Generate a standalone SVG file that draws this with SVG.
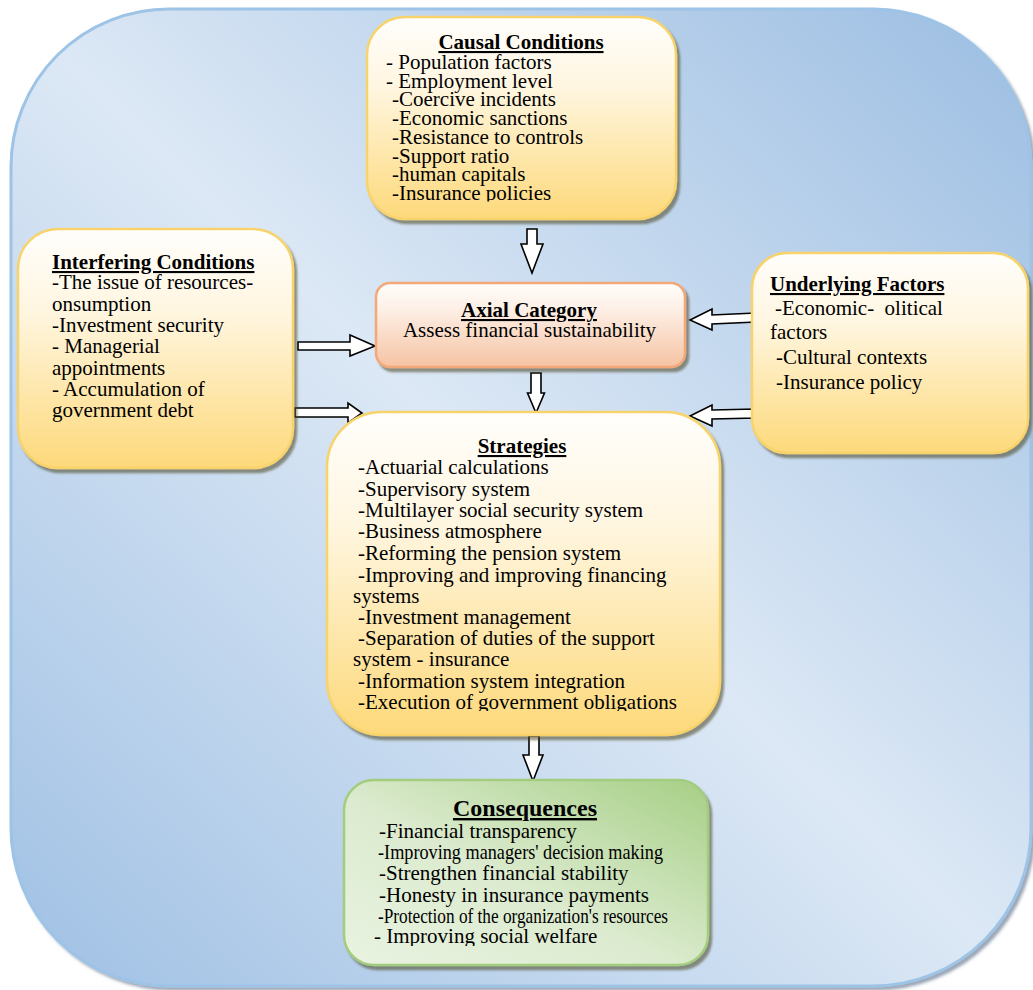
<svg xmlns="http://www.w3.org/2000/svg" width="1033" height="990" viewBox="0 0 1033 990">
  <style>
    text { font-family: "Liberation Serif", "Times New Roman", serif; font-size: 21px; fill: #000; }
    .title { font-weight: bold; text-decoration: underline; }
    .mid { text-anchor: middle; }
    .pre { white-space: pre; }
    .yellow { fill: url(#gYellow); stroke: #f8d36c; stroke-width: 2.5; filter: url(#shadow); }
    .arrow { fill: #fff; stroke: #000; stroke-width: 1.6; stroke-linejoin: miter; }
  </style>
  <defs>
    <linearGradient id="gBg" x1="1" y1="0" x2="0" y2="1">
      <stop offset="0" stop-color="#9bbde2"/>
      <stop offset="0.5" stop-color="#dce8f5"/>
      <stop offset="1" stop-color="#9fc0e4"/>
    </linearGradient>
    <linearGradient id="gYellow" x1="0" y1="0" x2="0" y2="1">
      <stop offset="0" stop-color="#fffefc"/>
      <stop offset="0.35" stop-color="#fff6e0"/>
      <stop offset="1" stop-color="#fdd97a"/>
    </linearGradient>
    <linearGradient id="gPeach" x1="0" y1="0" x2="0" y2="1">
      <stop offset="0" stop-color="#fffdfb"/>
      <stop offset="0.3" stop-color="#fdf0e7"/>
      <stop offset="1" stop-color="#f6c3a3"/>
    </linearGradient>
    <linearGradient id="gGreen" x1="1" y1="0" x2="0" y2="1">
      <stop offset="0" stop-color="#a6cf86"/>
      <stop offset="0.55" stop-color="#dcebcf"/>
      <stop offset="1" stop-color="#e9f3e1"/>
    </linearGradient>
    <filter id="shadow" x="-10%" y="-10%" width="120%" height="120%">
      <feDropShadow dx="3" dy="4" stdDeviation="1.2" flood-color="#4a4520" flood-opacity="0.55"/>
    </filter>
    <filter id="bgShadow" x="-5%" y="-5%" width="110%" height="110%">
      <feDropShadow dx="3" dy="3" stdDeviation="1.5" flood-color="#34506e" flood-opacity="0.5"/>
    </filter>
    <clipPath id="clipCausal"><rect x="360" y="10" width="320" height="191.5"/></clipPath>
    <clipPath id="clipStrat"><rect x="320" y="400" width="410" height="311"/></clipPath>
    <clipPath id="clipCons"><rect x="340" y="775" width="380" height="171"/></clipPath>
  </defs>

  <g id="background">
    <rect x="11" y="9" width="1020" height="977" rx="158" ry="158" fill="url(#gBg)" stroke="#9dc3e6" stroke-width="3" filter="url(#bgShadow)"/>
  </g>

  <g id="connectors">
    <polygon class="arrow" points="527,229 537,229 537,244 543,244 532,273 521,244 527,244"/>
    <polygon class="arrow" points="531,373 541,373 541,393 544.5,393 536,413 527.5,393 531,393"/>
    <polygon class="arrow" points="529,736 539,736 539,755 543,755 533,781 523,755 529,755"/>
    <polygon class="arrow" points="298,342 350,342 350,335 375,346 350,356 350,350 298,350"/>
    <polygon class="arrow" points="295,408 348,408 348,403 362,413 348,423 348,417 295,417"/>
    <polygon class="arrow" points="756,313 712,315 712,309 690,320 712,330 712,324 756,322"/>
    <polygon class="arrow" points="756,409 712,410 712,405 690,416 712,426 712,419 756,418"/>
  </g>

  <g id="causal">
    <rect class="yellow" x="367" y="17" width="309" height="202" rx="38" ry="38"/>
    <g clip-path="url(#clipCausal)">
      <text class="title mid" x="521" y="49">Causal Conditions</text>
      <text x="386" y="69">- Population factors</text>
      <text x="386" y="87.7">- Employment level</text>
      <text x="392" y="106.4">-Coercive incidents</text>
      <text x="392" y="125.1">-Economic sanctions</text>
      <text x="392" y="143.8">-Resistance to controls</text>
      <text x="392" y="162.5">-Support ratio</text>
      <text x="392" y="181.2">-human capitals</text>
      <text x="392" y="199.9">-Insurance policies</text>
    </g>
  </g>

  <g id="interfering">
    <rect class="yellow" x="18" y="229" width="275" height="239" rx="40" ry="40"/>
    <text class="title" x="52" y="269">Interfering Conditions</text>
    <text x="52" y="289">-The issue of resources-</text>
    <text x="52" y="310.5">onsumption</text>
    <text x="52" y="332">-Investment security</text>
    <text x="52" y="353">- Managerial</text>
    <text x="52" y="374.5">appointments</text>
    <text x="52" y="396">- Accumulation of</text>
    <text x="52" y="417">government debt</text>
  </g>

  <g id="underlying">
    <rect class="yellow" x="752" y="253" width="276" height="200" rx="35" ry="35"/>
    <text class="title" x="770" y="291">Underlying Factors</text>
    <text class="pre" x="775" y="315">-Economic-  olitical</text>
    <text x="770" y="339">factors</text>
    <text x="776" y="364">-Cultural contexts</text>
    <text x="776" y="389">-Insurance policy</text>
  </g>

  <g id="axial">
    <rect x="376" y="283" width="309" height="84" rx="14" ry="14" fill="url(#gPeach)" stroke="#f2a878" stroke-width="2.5" filter="url(#shadow)"/>
    <text class="title mid" x="529" y="317">Axial Category</text>
    <text class="mid" x="529.5" y="337">Assess financial sustainability</text>
  </g>

  <g id="strategies">
    <rect class="yellow" x="327" y="412" width="393" height="323" rx="55" ry="55"/>
    <g clip-path="url(#clipStrat)">
      <text class="title mid" x="522" y="453">Strategies</text>
      <text x="358" y="474">-Actuarial calculations</text>
      <text x="358" y="495.5">-Supervisory system</text>
      <text x="358" y="517">-Multilayer social security system</text>
      <text x="358" y="538">-Business atmosphere</text>
      <text x="358" y="560">-Reforming the pension system</text>
      <text x="358" y="581.5">-Improving and improving financing</text>
      <text x="353" y="602.5">systems</text>
      <text x="358" y="624">-Investment management</text>
      <text x="358" y="645">-Separation of duties of the support</text>
      <text x="353" y="666">system - insurance</text>
      <text x="358" y="687.5">-Information system integration</text>
      <text x="358" y="708.5">-Execution of government obligations</text>
    </g>
  </g>

  <g id="consequences">
    <rect x="344" y="780" width="364" height="185" rx="30" ry="30" fill="url(#gGreen)" stroke="#a3cc7e" stroke-width="2.5" filter="url(#shadow)"/>
    <g clip-path="url(#clipCons)">
      <text class="title mid" x="525" y="816" style="font-size:24px">Consequences</text>
      <text x="379" y="838">-Financial transparency</text>
      <text x="378" y="859" textLength="285" lengthAdjust="spacingAndGlyphs">-Improving managers' decision making</text>
      <text x="379" y="880">-Strengthen financial stability</text>
      <text x="379" y="902">-Honesty in insurance payments</text>
      <text x="378" y="923" textLength="290" lengthAdjust="spacingAndGlyphs">-Protection of the organization's resources</text>
      <text x="374" y="943">- Improving social welfare</text>
    </g>
  </g>
</svg>
